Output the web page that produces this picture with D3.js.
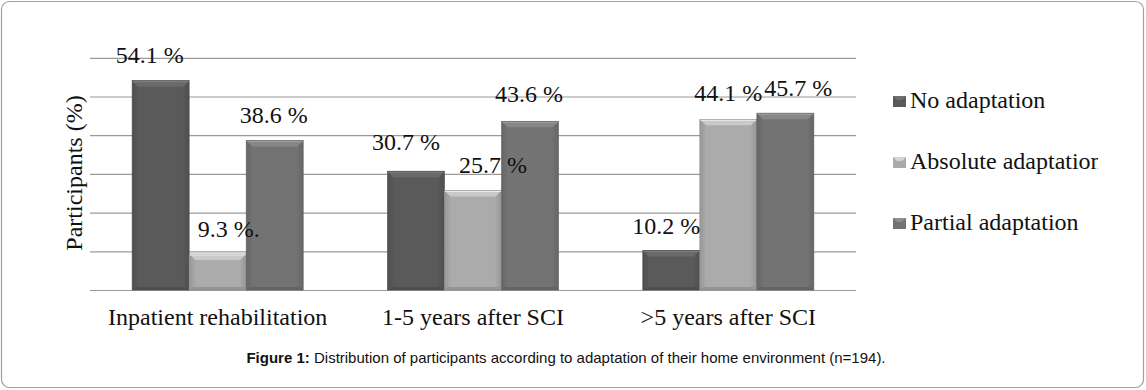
<!DOCTYPE html>
<html><head><meta charset="utf-8">
<script src="https://cdn.jsdelivr.net/npm/d3@7"></script>
<style>
html,body{margin:0;padding:0;background:#fff;}
svg{display:block;}
.serif{font-family:"Liberation Serif","DejaVu Serif","Times New Roman",serif;}
.sans{font-family:"Liberation Sans",Arial,sans-serif;}
</style></head>
<body>
<svg id="chart" width="1146" height="390"></svg>
<script>
// ---- data ----
const categories = ["Inpatient rehabilitation", "1-5 years after SCI", ">5 years after SCI"];
const seriesNames = ["No adaptation", "Absolute adaptation", "Partial adaptation"];
const noAdaptation = [54.1, 30.7, 10.2];
const absoluteAdaptation = [9.3, 25.7, 44.1];
const partialAdaptation = [38.6, 43.6, 45.7];
const valueLabels = [["54.1 %", "30.7 %", "10.2 %"], ["9.3 %.", "25.7 %", "44.1 %"], ["38.6 %", "43.6 %", "45.7 %"]];
const yTicks = [0, 10, 20, 30, 40, 50, 60];
const axisTitle = "Participants (%)";
const captionBold = "Figure 1:";
const captionText = " Distribution of participants according to adaptation of their home environment (n=194).";

// ---- styling ----
const seriesValues = [noAdaptation, absoluteAdaptation, partialAdaptation];
const baseColors = ["#5a5a5a", "#ababab", "#737373"];
const fs = 24;
// manual label nudges [series][category] -> [dx, dy] (as in the original layout)
const labelNudge = [
  [[-11, -1], [-10, -4], [-5, 0]],
  [[11, 0], [20, -1], [0, -1]],
  [[-1, -1], [-1, -2], [13, 0]]
];

const svg = d3.select("#chart");
const defs = svg.append("defs");

// outer rounded frame
svg.append("rect").attr("x", 1.5).attr("y", 1.5).attr("width", 1142).attr("height", 386)
  .attr("rx", 8).attr("ry", 8).attr("fill", "#fff").attr("stroke", "#a0a0a0").attr("stroke-width", 1.2);

const x0 = d3.scaleBand().domain(categories).range([90, 856]).paddingInner(0.33).paddingOuter(0.165);
const x1 = d3.scaleBand().domain(seriesNames).range([0, x0.bandwidth()]);
const y = d3.scaleLinear().domain([0, 60]).range([290, 57.8]);

// gridlines
const yAxis = d3.axisLeft(y).tickValues(yTicks).tickSize(-(856 - 90)).tickFormat("");
const gAxis = svg.append("g").attr("transform", "translate(90,0)").call(yAxis);
gAxis.select(".domain").remove();
gAxis.selectAll(".tick line").attr("stroke", "#9a9a9a").attr("stroke-width", 1.2);

// gradients
baseColors.forEach((c, i) => {
  const g = defs.append("linearGradient").attr("id", "grad" + i).attr("x1", 0).attr("x2", 1).attr("y1", 0).attr("y2", 0);
  const col = d3.color(c);
  g.append("stop").attr("offset", "0%").attr("stop-color", col.darker(0.35));
  g.append("stop").attr("offset", "12%").attr("stop-color", col);
  g.append("stop").attr("offset", "88%").attr("stop-color", col);
  g.append("stop").attr("offset", "100%").attr("stop-color", col.darker(0.35));
});

const b = 6;
seriesValues.forEach((vals, si) => {
  const col = d3.color(baseColors[si]);
  const g = svg.append("g");
  vals.forEach((v, ci) => {
    const xl = x0(categories[ci]) + x1(seriesNames[si]);
    const w = x1.bandwidth();
    const yt = y(v), yb = y(0);
    g.append("rect").attr("x", xl).attr("y", yt).attr("width", w).attr("height", yb - yt)
      .attr("fill", `url(#grad${si})`);
    g.append("path").attr("d", `M${xl},${yt}L${xl + w},${yt}L${xl + w - b},${yt + b}L${xl + b},${yt + b}Z`)
      .attr("fill", col.brighter(0.45));
    g.append("path").attr("d", `M${xl},${yt}L${xl + w},${yt}L${xl + w - 1},${yt + 1.5}L${xl + 1},${yt + 1.5}Z`)
      .attr("fill", col.brighter(0.9));
    g.append("path").attr("d", `M${xl},${yb}L${xl + w},${yb}L${xl + w - 3},${yb - 3}L${xl + 3},${yb - 3}Z`)
      .attr("fill", col.darker(0.4));
    g.append("rect").attr("x", xl).attr("y", yt).attr("width", w).attr("height", yb - yt)
      .attr("fill", "none").attr("stroke", col.darker(0.5)).attr("stroke-width", 0.6);
  });
});

// value labels
seriesValues.forEach((vals, si) => {
  vals.forEach((v, ci) => {
    const xc = x0(categories[ci]) + x1(seriesNames[si]) + x1.bandwidth() / 2;
    const nd = labelNudge[si][ci];
    svg.append("text").attr("class", "serif").attr("x", xc + nd[0]).attr("y", y(v) - 17 + nd[1])
      .attr("text-anchor", "middle").attr("font-size", fs).attr("fill", "#111").text(valueLabels[si][ci]);
  });
});

// category axis labels
const xAxis = d3.axisBottom(x0).tickSize(0).tickPadding(0);
const gx = svg.append("g").attr("transform", "translate(0,290)").call(xAxis);
gx.select(".domain").remove();
gx.attr("font-family", null).attr("font-size", null);
gx.selectAll(".tick text").attr("class", "serif").attr("dy", 0).attr("y", 35)
  .attr("font-size", fs).attr("fill", "#111");

// y axis title
svg.append("text").attr("class", "serif").attr("transform", "translate(82,173) rotate(-90)").attr("text-anchor", "middle")
  .attr("font-size", fs).attr("fill", "#111").text(axisTitle);

// legend
defs.append("clipPath").attr("id", "legclip").append("rect").attr("x", 880).attr("y", 0).attr("width", 218).attr("height", 390);
const leg = svg.append("g").attr("clip-path", "url(#legclip)");
seriesNames.forEach((name, i) => {
  const yy = 108 + i * 61;
  const col = d3.color(baseColors[i]);
  leg.append("rect").attr("x", 893).attr("y", yy - 12).attr("width", 13).attr("height", 11).attr("fill", col);
  leg.append("path").attr("d", `M893,${yy - 12}L906,${yy - 12}L902,${yy - 8}L897,${yy - 8}Z`).attr("fill", col.brighter(0.6));
  leg.append("text").attr("class", "serif").attr("x", 910).attr("y", yy)
    .attr("font-size", fs).attr("fill", "#111").text(name);
});

// caption
const cap = svg.append("text").attr("class", "sans").attr("x", 566).attr("y", 363).attr("text-anchor", "middle")
  .attr("font-size", 15).attr("fill", "#111");
cap.append("tspan").attr("font-weight", "bold").text(captionBold);
cap.append("tspan").text(captionText);
</script>
</body></html>
